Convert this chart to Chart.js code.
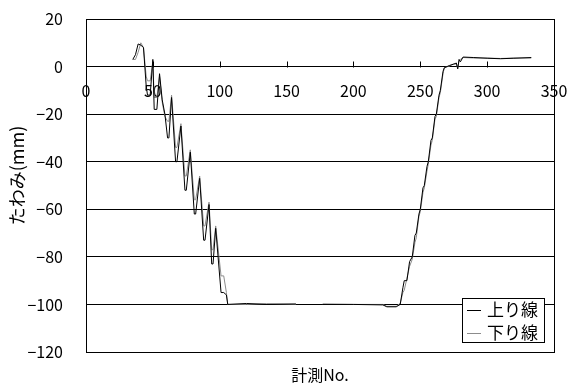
<!DOCTYPE html>
<html>
<head>
<meta charset="utf-8">
<script src="https://cdn.jsdelivr.net/npm/chart.js@4.4.0/dist/chart.umd.min.js"></script>
<style>
  body { margin: 0; background: #fff; }
  canvas { display: block; }
</style>
</head>
<body>
<canvas id="deflectionChart" width="568" height="383"></canvas>
<script>
// 計測No. (shared by both lines), null = no measurement
const measureNo = [35,37,39,41,43,45,46,48,50,51,53,55,57,59,61,62,64,67,68,71,74,75,78,81,82,85,88,89,92,94,95,97,101,103,105,106,
  120,135,157,165,177,200,222,225,232,
  235,237,238,240,242,244,246,247,249,250,252,253,255,256,258,259,261,262,264,265,267,268,
  272,275,277,278,279,280,282,290,300,310,320,333];

// 上り線 deflection (mm)
const upLine = [3,5,9.5,9,8,-8,-12,-12,3,-18,-18,-3,-14,-20,-30,-30,-13,-40,-40,-25,-52,-52,-36,-62,-62,-47,-73,-73,-58,-83,-83,-68,-95,-95,-96,-100,
  -99.6,-100,-99.8,null,-100,-100,-100.2,-101,-101,
  -100,-93,-90,-90,-82,-80,-71,-70,-62,-60,-51,-50,-42,-40,-31,-30,-21,-20,-12,-10,-2,-0.5,
  0.5,1,1.5,-1,3,2,4,3.8,3.5,3.3,3.5,3.8];

// 下り線 deflection (mm)
const downLine = [3,3,6,10,8,-4,-6,-6,2,-13,-13,-4,-15,-21,-23,-23,-12,-34,-34,-24,-46,-46,-35,-56,-56,-46,-67,-67,-57,-77,-77,-67,-88,-88,-95,-100,
  -100,-99.7,-100,null,-99.8,-100,-100,-100.8,-100.8,
  -99.5,-95,-94,-89,-84,-81,-74,-72,-63,-61,-53,-51,-44,-41,-33,-31,-22,-21,-13,-11,-3,-0.5,
  0.3,1.2,1,-0.5,2.5,3,3.8,3.6,3.6,3.4,3.6,3.6];

const xTicks = [0, 50, 100, 150, 200, 250, 300, 350];
const yTicks = [20, 0, -20, -40, -60, -80, -100, -120];

const seriesNames = ['上り線', '下り線'];
const seriesColors = ['#000000', '#8c8c8c'];
const xTitle = '計測No.';
const yTitle = 'たわみ(mm)';

const jpFont = '"Noto Sans CJK JP", "Noto Sans", sans-serif';

function toPoints(vals) {
  return measureNo.map((x, i) => ({ x: x, y: vals[i] }));
}

// box around the plot, small inward tick marks on the x axis, axis titles
const frameAndTicks = {
  id: 'frameAndTicks',
  afterDraw(chart) {
    const ctx = chart.ctx;
    const a = chart.chartArea;
    const xs = chart.scales.x;
    const y0 = Math.round(chart.scales.y.getPixelForValue(0)) + 0.5;
    ctx.save();
    ctx.strokeStyle = '#000';
    ctx.lineWidth = 1;
    ctx.strokeRect(Math.round(a.left) + 0.5, Math.round(a.top) + 0.5,
      Math.round(a.right - a.left), Math.round(a.bottom - a.top));
    ctx.beginPath();
    xTicks.slice(1, -1).forEach(v => {
      const px = Math.round(xs.getPixelForValue(v)) + 0.5;
      ctx.moveTo(px, y0);
      ctx.lineTo(px, y0 - 6);
    });
    ctx.stroke();

    ctx.fillStyle = '#000';
    ctx.textAlign = 'center';
    ctx.textBaseline = 'middle';
    ctx.font = '16px ' + jpFont;
    ctx.fillText(xTitle, (a.left + a.right) / 2, a.bottom + 23);

    ctx.translate(17, (a.top + a.bottom) / 2 - 10);
    ctx.rotate(-Math.PI / 2);
    ctx.font = '18px ' + jpFont;
    ctx.fillText(yTitle, 0, 0);
    ctx.restore();
  }
};

// legend box in the lower right corner of the plot
const boxLegend = {
  id: 'boxLegend',
  afterDraw(chart) {
    const ctx = chart.ctx;
    const a = chart.chartArea;
    const w = 82, h = 44;
    const right = Math.round(a.right) - 10, bottom = Math.round(a.bottom) - 10;
    const left = right - w, top = bottom - h;
    ctx.save();
    ctx.fillStyle = '#fff';
    ctx.fillRect(left, top, w, h);
    ctx.strokeStyle = '#000';
    ctx.lineWidth = 1;
    ctx.strokeRect(left + 0.5, top + 0.5, w, h);
    ctx.font = '17px ' + jpFont;
    ctx.textBaseline = 'middle';
    chart.data.datasets.forEach((ds, i) => {
      const cy = top + 12 + i * 22.5;
      ctx.strokeStyle = ds.borderColor;
      ctx.beginPath();
      ctx.moveTo(left + 5, Math.round(cy) + 0.5);
      ctx.lineTo(left + 19, Math.round(cy) + 0.5);
      ctx.stroke();
      ctx.fillStyle = '#000';
      ctx.fillText(ds.label, left + 25, cy);
    });
    ctx.restore();
  }
};

const ctx = document.getElementById('deflectionChart').getContext('2d');

new Chart(ctx, {
  type: 'line',
  data: {
    datasets: [
      {
        label: seriesNames[0],
        data: toPoints(upLine),
        borderColor: seriesColors[0],
        borderWidth: 1,
        pointRadius: 0,
        tension: 0,
        spanGaps: false
      },
      {
        label: seriesNames[1],
        data: toPoints(downLine),
        borderColor: seriesColors[1],
        borderWidth: 1,
        pointRadius: 0,
        tension: 0,
        spanGaps: false
      }
    ]
  },
  options: {
    responsive: false,
    animation: false,
    layout: { padding: { top: 19, right: 0, left: 0, bottom: 31 } },
    plugins: {
      legend: { display: false },
      tooltip: { enabled: false },
      title: { display: false }
    },
    scales: {
      x: {
        type: 'linear',
        position: { y: 0 },
        min: 0,
        max: 350,
        afterBuildTicks: s => { s.ticks = xTicks.map(v => ({ value: v })); },
        // no height (axis sits on y=0); right room only for half of the "350" label
        afterFit: s => { s.height = 0; s.paddingLeft = 0; s.paddingRight = 14; },
        grid: { display: false, drawTicks: false },
        border: { display: true, color: '#000', width: 1 },
        ticks: {
          color: '#000',
          padding: 15,
          maxRotation: 0,
          font: { family: jpFont, size: 16 }
        }
      },
      y: {
        type: 'linear',
        min: -120,
        max: 20,
        afterBuildTicks: s => { s.ticks = yTicks.map(v => ({ value: v })); },
        // fixed axis width; drop the extra top/bottom room that tick padding adds
        afterFit: s => { s.width = 86; s.paddingTop = 0; s.paddingBottom = 0; },
        grid: { color: '#000', lineWidth: 1, drawTicks: false },
        border: { display: true, color: '#000', width: 1 },
        ticks: {
          color: '#000',
          padding: 23,
          font: { family: jpFont, size: 16 },
          callback: v => String(v).replace('-', '−')
        }
      }
    }
  },
  plugins: [frameAndTicks, boxLegend]
});
</script>
</body>
</html>
